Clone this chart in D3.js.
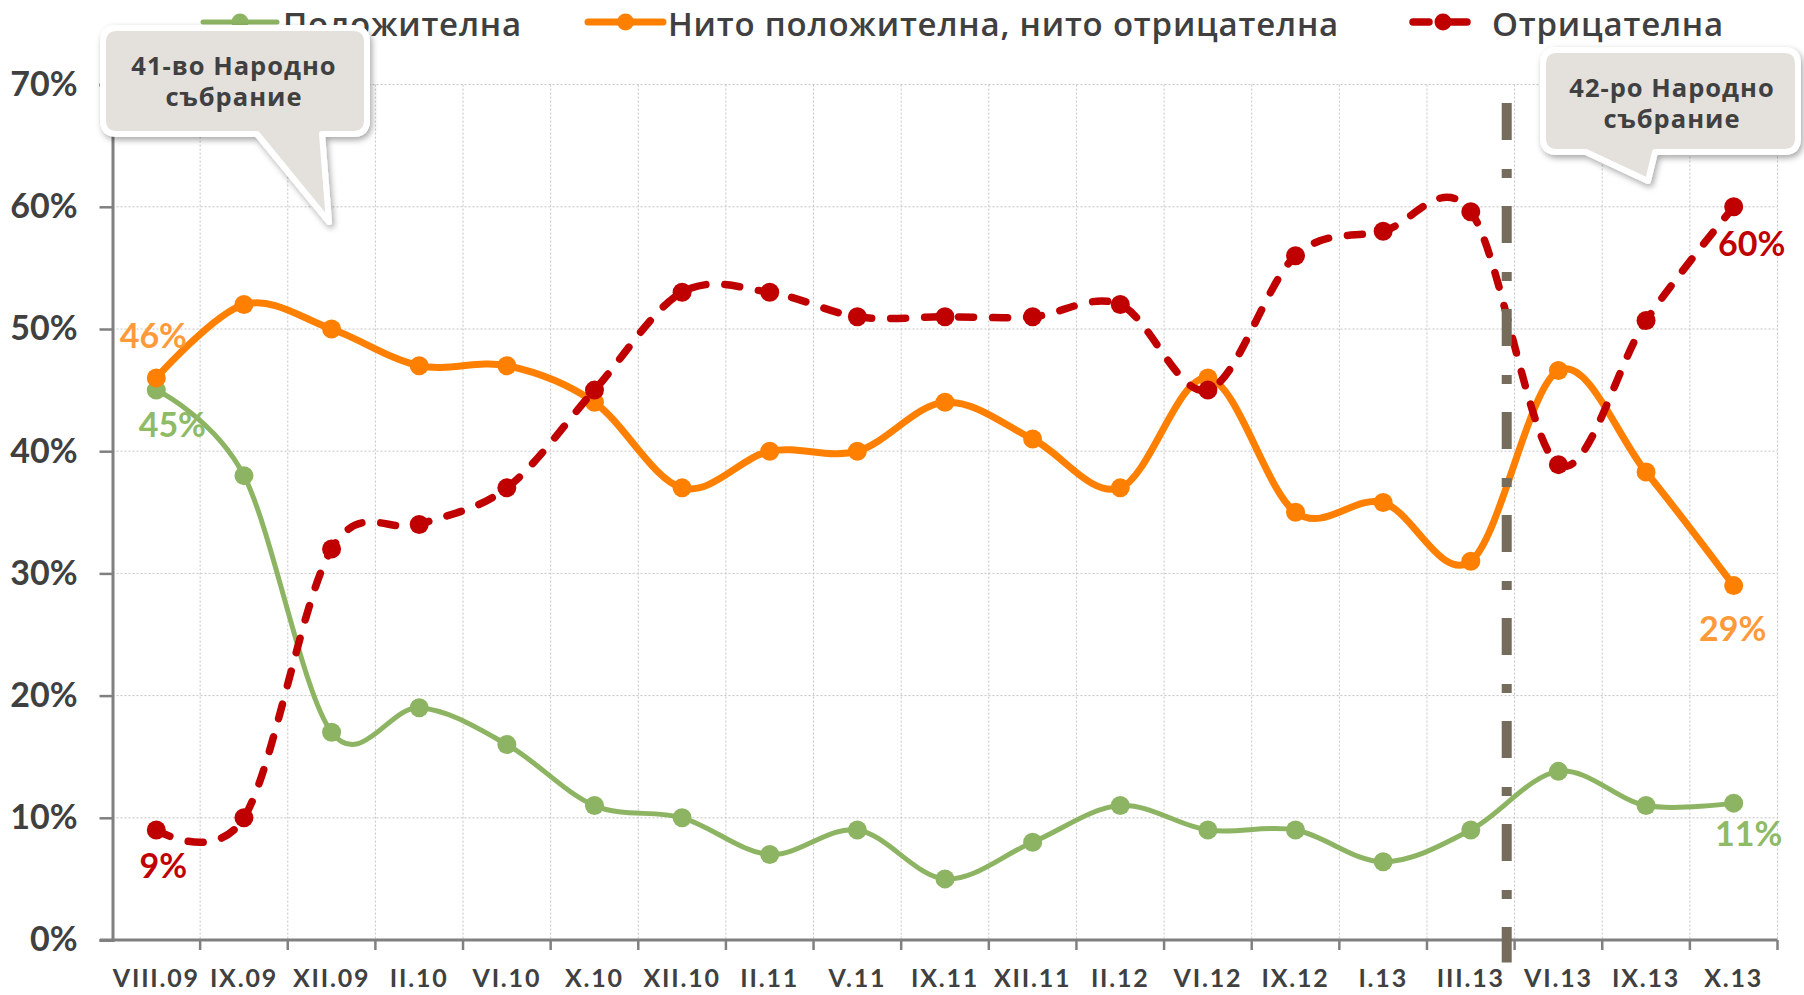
<!DOCTYPE html>
<html lang="bg">
<head>
<meta charset="UTF-8">
<title>Оценка</title>
<style>
  body { margin: 0; background: #fff; }
  svg { display: block; }
  .lbl { font-family: Lato, 'Open Sans', sans-serif; font-weight: 700; }
  .cyr { font-family: 'Open Sans', 'Noto Sans', sans-serif; }
</style>
</head>
<body>
<svg id="chart" width="1804" height="995"></svg>
<script src="https://cdn.jsdelivr.net/npm/d3@7"></script>
<script>
// months of the survey
const categories = ["VIII.09","IX.09","XII.09","II.10","VI.10","X.10","XII.10","II.11","V.11",
  "IX.11","XII.11","II.12","VI.12","IX.12","I.13","III.13","VI.13","IX.13","X.13"];
// share of answers, %
const positive = [45, 38, 17, 19, 16, 11, 10, 7, 9, 5, 8, 11, 9, 9, 6.4, 9, 13.8, 11, 11.2];
const neutral  = [46, 52, 50, 47, 47, 44, 37, 40, 40, 44, 41, 37, 46, 35, 35.8, 31, 46.6, 38.3, 29];
const negative = [9, 10, 32, 34, 37, 45, 53, 53, 51, 51, 51, 52, 45, 56, 58, 59.6, 38.9, 50.7, 60];
const yTicks = [0, 10, 20, 30, 40, 50, 60, 70];
const seriesNames = ["Положителна", "Нито положителна, нито отрицателна", "Отрицателна"];

const series = [
  { name: seriesNames[0], values: positive, color: "#8db462", label: "#8fba66", width: 5, dash: null },
  { name: seriesNames[1], values: neutral,  color: "#ff8000", label: "#ff9a3a", width: 7, dash: null },
  { name: seriesNames[2], values: negative, color: "#c00000", label: "#c00000", width: 7.5, dash: "15,19" }
];

const svg = d3.select("#chart");
const plotLeft = 112.5, plotRight = 1777.5, plotTop = 84.6, plotBottom = 940;

const x = d3.scaleBand().domain(categories).range([plotLeft, plotRight]).padding(0);
const y = d3.scaleLinear().domain([0, 70]).range([plotBottom, plotTop]);
const cx = d => x(d) + x.bandwidth() / 2;

// shadow for the callouts
const defs = svg.append("defs");
defs.append("filter").attr("id", "shadow").attr("x", "-20%").attr("y", "-20%")
  .attr("width", "140%").attr("height", "150%")
  .append("feDropShadow").attr("dx", 2).attr("dy", 3).attr("stdDeviation", 3)
  .attr("flood-color", "#000").attr("flood-opacity", 0.35);

// grid
const grid = svg.append("g");
grid.selectAll(".hg").data(yTicks.slice(1)).join("line")
  .attr("x1", plotLeft).attr("x2", plotRight)
  .attr("y1", d => y(d)).attr("y2", d => y(d))
  .attr("stroke", "#c4c4c4").attr("stroke-width", 1).attr("stroke-dasharray", "2,2");
const bounds = categories.map(c => x(c) + x.bandwidth());
grid.selectAll(".vg").data(bounds).join("line")
  .attr("x1", d => d).attr("x2", d => d)
  .attr("y1", y(70)).attr("y2", plotBottom)
  .attr("stroke", "#c4c4c4").attr("stroke-width", 1).attr("stroke-dasharray", "2,2");

// y axis
const yAxis = svg.append("g").attr("transform", `translate(${plotLeft},0)`)
  .call(d3.axisLeft(y).tickValues(yTicks).tickSize(13).tickPadding(22).tickFormat(d => d + "%"));
yAxis.select(".domain").attr("stroke", "#808080").attr("stroke-width", 3);
yAxis.selectAll(".tick line").attr("stroke", "#808080").attr("stroke-width", 2.5);
yAxis.selectAll("text").attr("class", "lbl").attr("font-size", 34).attr("fill", "#404040");

// x axis: labels centred in bands, ticks on band borders
const xAxis = svg.append("g").attr("transform", `translate(0,${plotBottom})`)
  .call(d3.axisBottom(x).tickSize(0).tickSizeOuter(0));
xAxis.select(".domain").remove();
xAxis.selectAll("text").attr("class", "lbl").attr("font-size", 25).attr("fill", "#404040")
  .attr("y", 47).attr("dy", 0).attr("letter-spacing", 1.8);
svg.append("line").attr("x1", 100).attr("x2", plotRight).attr("y1", plotBottom).attr("y2", plotBottom)
  .attr("stroke", "#808080").attr("stroke-width", 3);
svg.append("g").selectAll("line").data(bounds).join("line")
  .attr("x1", d => d).attr("x2", d => d).attr("y1", plotBottom).attr("y2", plotBottom + 10)
  .attr("stroke", "#808080").attr("stroke-width", 2.5);

// legend
const legend = svg.append("g");
const legendItems = [
  { s: series[0], x0: 203, x1: 277, tx: 283 },
  { s: series[1], x0: 588, x1: 663, tx: 668 },
  { s: series[2], x0: 1413, x1: 1473, tx: 1492 }
];
legendItems.forEach(it => {
  legend.append("line").attr("x1", it.x0).attr("x2", it.x1).attr("y1", 22).attr("y2", 22)
    .attr("stroke", it.s.color).attr("stroke-width", it.s.width).attr("stroke-linecap", "round")
    .attr("stroke-dasharray", it.s.dash ? "16,22" : null);
  legend.append("circle").attr("cx", (it.x0 + it.x1) / 2).attr("cy", 22).attr("r", 8.5).attr("fill", it.s.color);
  legend.append("text").attr("class", "cyr").attr("x", it.tx).attr("y", 36)
    .attr("font-size", 33).attr("font-weight", 600).attr("letter-spacing", 0.8)
    .attr("fill", "#404040").text(it.s.name);
});

// lines
const line = d3.line().x((d, i) => cx(categories[i])).y(d => y(d)).curve(d3.curveCardinal.tension(0));
series.forEach(s => {
  const g = svg.append("g");
  g.append("path").attr("d", line(s.values)).attr("fill", "none")
    .attr("stroke", s.color).attr("stroke-width", s.width)
    .attr("stroke-linecap", "round").attr("stroke-linejoin", "round")
    .attr("stroke-dasharray", s.dash);
  g.selectAll("circle").data(s.values).join("circle")
    .attr("cx", (d, i) => cx(categories[i])).attr("cy", d => y(d))
    .attr("r", 9.5).attr("fill", s.color);
});

// end labels
const n = categories.length - 1;
const endLabels = [
  { s: 0, i: 0, dx: 16, dy: 47 }, { s: 1, i: 0, dx: -3, dy: -30 }, { s: 2, i: 0, dx: 7, dy: 48 },
  { s: 2, i: n, dx: 18, dy: 49 }, { s: 1, i: n, dx: -1, dy: 55 }, { s: 0, i: n, dx: 15, dy: 43 }
];
svg.append("g").selectAll("text").data(endLabels).join("text")
  .attr("class", "lbl").attr("font-size", 34).attr("text-anchor", "middle")
  .attr("x", d => cx(categories[d.i]) + d.dx)
  .attr("y", d => y(series[d.s].values[d.i]) + d.dy)
  .attr("fill", d => series[d.s].label)
  .text(d => Math.round(series[d.s].values[d.i]) + "%");

// dash-dot separator between the two parliaments
const sepX = x("III.13") + x.bandwidth() * 0.91;
svg.append("line").attr("x1", sepX).attr("x2", sepX).attr("y1", 103).attr("y2", 962.5)
  .attr("stroke", "#756c5b").attr("stroke-width", 10).attr("stroke-dasharray", "37,29,9,28");

// callouts
function callout(b, tail, lines, tx, ty) {
  const r = 14;
  const p = `M${b.x0 + r},${b.y0} H${b.x1 - r} Q${b.x1},${b.y0} ${b.x1},${b.y0 + r} V${b.y1 - r}
    Q${b.x1},${b.y1} ${b.x1 - r},${b.y1} H${tail[0]} L${tail[1]},${tail[2]} L${tail[3]},${b.y1}
    H${b.x0 + r} Q${b.x0},${b.y1} ${b.x0},${b.y1 - r} V${b.y0 + r} Q${b.x0},${b.y0} ${b.x0 + r},${b.y0} Z`;
  const g = svg.append("g");
  g.append("path").attr("d", p).attr("fill", "#e4e1dc").attr("stroke", "#fff")
    .attr("stroke-width", 6).attr("stroke-linejoin", "round").attr("filter", "url(#shadow)");
  g.selectAll("text").data(lines).join("text").attr("class", "cyr")
    .attr("font-weight", 700).attr("font-size", 25.5).attr("letter-spacing", 1)
    .attr("fill", "#404040").attr("text-anchor", "middle")
    .attr("x", tx).attr("y", (d, i) => ty + i * 31).text(d => d);
}
callout({ x0: 103, y0: 28, x1: 367, y1: 134 }, [322, 329, 222, 257], ["41-во Народно", "събрание"], 234, 75);
callout({ x0: 1543, y0: 50, x1: 1798, y1: 152 }, [1655, 1648, 181, 1586], ["42-ро Народно", "събрание"], 1672, 97);
</script>
</body>
</html>
